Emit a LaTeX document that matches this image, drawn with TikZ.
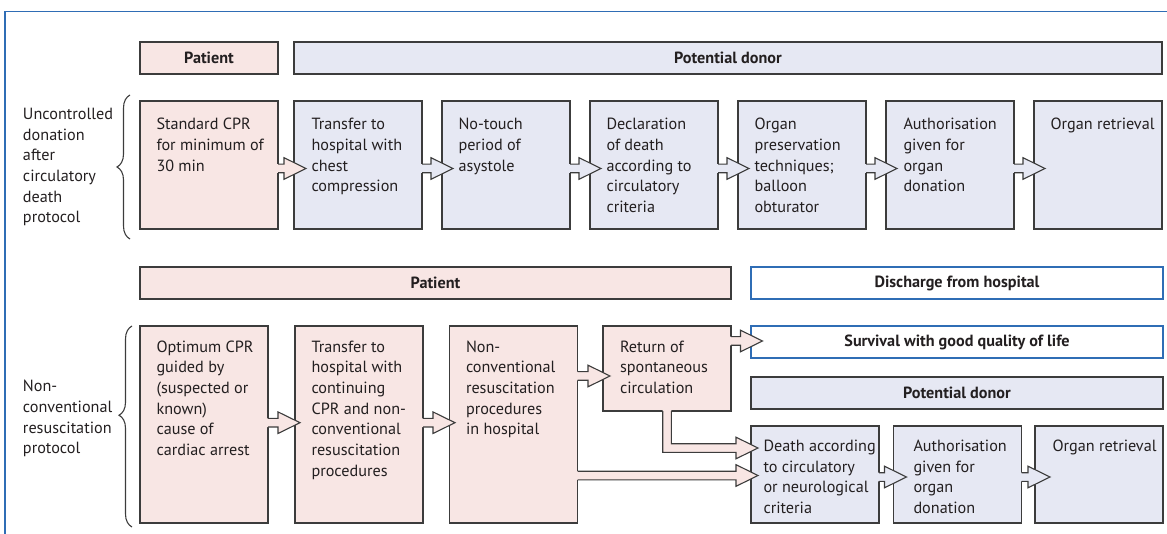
\documentclass[tikz,border=0pt]{standalone}
\usepackage{fontspec}
\setmainfont{PT Sans}
\usetikzlibrary{calc,decorations.pathreplacing}

\definecolor{pinkfill}{HTML}{F8E6E4}
\definecolor{bluefill}{HTML}{E6E8F3}
\definecolor{edge}{HTML}{3C3C3C}
\definecolor{frameblue}{HTML}{2F6DB5}
\definecolor{ink}{HTML}{231F20}

\newcommand{\bodyfont}{\fontsize{16.2}{20.7}\selectfont}
\newcommand{\firstline}{\rule{0pt}{14pt}}
\newcommand{\sh}{4.3}
\newcommand{\hh}{10.8}
\newcommand{\hl}{22}

% block arrow: start point on the source edge, tip point, fill colour
\newcommand{\flowarrow}[3]{%
  \fill[#3] ($(#1)+(-1.4,-\sh)$) -- ($(#2)+(-\hl,-\sh)$) -- ($(#2)+(-\hl,-\hh)$) -- (#2)
     -- ($(#2)+(-\hl,\hh)$) -- ($(#2)+(-\hl,\sh)$) -- ($(#1)+(-1.4,\sh)$) -- cycle;
  \draw[arrline] ($(#1)+(0,-\sh)$) -- ($(#2)+(-\hl,-\sh)$) -- ($(#2)+(-\hl,-\hh)$) -- (#2)
     -- ($(#2)+(-\hl,\hh)$) -- ($(#2)+(-\hl,\sh)$) -- ($(#1)+(0,\sh)$);
}

\tikzset{
  box/.style={draw=edge, line width=1.1pt, inner sep=0pt, outer sep=0pt, anchor=north west, font=\bodyfont, text=ink},
  pinkbox/.style={box, fill=pinkfill},
  bluebox/.style={box, fill=bluefill},
  whitebox/.style={box, draw=frameblue, fill=white},
  headbox/.style={minimum height=32pt, font=\bodyfont\bfseries},
  txt/.style={anchor=north west, inner sep=0pt, outer sep=0pt, align=left, font=\bodyfont, text=ink},
  arrline/.style={draw=edge, line width=1.1pt, line join=miter},
  bracestyle/.style={draw=edge, line width=1.1pt, decorate},
}

\begin{document}
\begin{tikzpicture}[x=1pt, y=-1pt]
\useasboundingbox (0,0) rectangle (1167,534);

% frame corner
\draw[frameblue, line width=1.5pt] (5,534) -- (5,11.5) -- (1167,11.5);

% ---------- uncontrolled donation protocol ----------
\node[pinkbox, headbox, minimum width=138pt] (hp1) at (140,42) {Patient};
\node[bluebox, headbox, minimum width=868pt] (hd1) at (294,42) {Potential donor};

\node[pinkbox, minimum width=138pt, minimum height=128pt] (u1) at (140,101) {};
\node[bluebox, minimum width=128pt, minimum height=128pt] (u2) at (294,101) {};
\node[bluebox, minimum width=128pt, minimum height=128pt] (u3) at (442,101) {};
\node[bluebox, minimum width=128pt, minimum height=128pt] (u4) at (590,101) {};
\node[bluebox, minimum width=128pt, minimum height=128pt] (u5) at (738,101) {};
\node[bluebox, minimum width=128pt, minimum height=128pt] (u6) at (886,101) {};
\node[bluebox, minimum width=128pt, minimum height=128pt] (u7) at (1034,101) {};

\node[txt] (u1t) at ($(u1.north west)+(16.5,14.8)$) {\firstline Standard CPR\\for minimum of\\30 min};
\node[txt] (u2t) at ($(u2.north west)+(17.5,14.8)$) {\firstline Transfer to\\hospital with\\chest\\compression};
\node[txt] (u3t) at ($(u3.north west)+(16.5,14.8)$) {\firstline No-touch\\period of\\asystole};
\node[txt] (u4t) at ($(u4.north west)+(16.5,14.8)$) {\firstline Declaration\\of death\\according to\\circulatory\\criteria};
\node[txt] (u5t) at ($(u5.north west)+(16.5,14.8)$) {\firstline Organ\\preservation\\techniques;\\balloon\\obturator};
\node[txt] (u6t) at ($(u6.north west)+(17.5,14.8)$) {\firstline Authorisation\\given for\\organ\\donation};
\node[txt] (u7t) at ($(u7.north west)+(16.5,14.8)$) {\firstline Organ retrieval};

\node[txt] (lab1) at (23,105.5) {\firstline Uncontrolled\\donation\\after\\circulatory\\death\\protocol};
\draw[bracestyle, decoration={brace, amplitude=13pt, aspect=0.5}] (130,239) -- (130,95);

\coordinate (r1) at (0,168.5);
\coordinate (a1s) at (u1.east |- r1); \coordinate (a1t) at ($(u2.west |- r1)+(12,0)$);
\coordinate (a2s) at (u2.east |- r1); \coordinate (a2t) at ($(u3.west |- r1)+(11,0)$);
\coordinate (a3s) at (u3.east |- r1); \coordinate (a3t) at ($(u4.west |- r1)+(11,0)$);
\coordinate (a4s) at (u4.east |- r1); \coordinate (a4t) at ($(u5.west |- r1)+(11,0)$);
\coordinate (a5s) at (u5.east |- r1); \coordinate (a5t) at ($(u6.west |- r1)+(11,0)$);
\coordinate (a6s) at (u6.east |- r1); \coordinate (a6t) at ($(u7.west |- r1)+(11,0)$);
\flowarrow{a1s}{a1t}{pinkfill}
\flowarrow{a2s}{a2t}{bluefill}
\flowarrow{a3s}{a3t}{bluefill}
\flowarrow{a4s}{a4t}{bluefill}
\flowarrow{a5s}{a5t}{bluefill}
\flowarrow{a6s}{a6t}{bluefill}

% ---------- non-conventional resuscitation protocol ----------
\node[pinkbox, headbox, minimum width=591pt] (hp2) at (140,267) {Patient};
\node[whitebox, headbox, minimum width=412pt] (dis) at (751,267) {Discharge from hospital};
\node[whitebox, headbox, minimum width=412pt] (surv) at (751,326) {Survival with good quality of life};
\node[bluebox, headbox, minimum width=412pt] (hd2) at (751,377) {Potential donor};

\node[pinkbox, minimum width=128pt, minimum height=197pt] (nA) at (140,326) {};
\node[pinkbox, minimum width=128pt, minimum height=197pt] (nB) at (295,326) {};
\node[pinkbox, minimum width=128pt, minimum height=197pt] (nC) at (449.5,326) {};
\node[pinkbox, minimum width=128pt, minimum height=85pt] (nD) at (603,326) {};
\node[bluebox, minimum width=128pt, minimum height=97pt] (death) at (751,426) {};
\node[bluebox, minimum width=128pt, minimum height=97pt] (auth) at (893.5,426) {};
\node[bluebox, minimum width=128pt, minimum height=97pt] (ret) at (1035,426) {};

\node[txt] (nAt) at ($(nA.north west)+(16.5,12)$) {\firstline Optimum CPR\\guided by\\(suspected or\\known)\\cause of\\cardiac arrest};
\node[txt] (nBt) at ($(nB.north west)+(16.5,12)$) {\firstline Transfer to\\hospital with\\continuing\\CPR and non-\\conventional\\resuscitation\\procedures};
\node[txt] (nCt) at ($(nC.north west)+(16.5,12)$) {\firstline Non-\\conventional\\resuscitation\\procedures\\in hospital};
\node[txt] (nDt) at ($(nD.north west)+(17,12)$) {\firstline Return of\\spontaneous\\circulation};
\node[txt] (deatht) at ($(death.north west)+(12.5,11.5)$) {\firstline Death according\\to circulatory\\or neurological\\criteria};
\node[txt] (autht) at ($(auth.north west)+(20,11.5)$) {\firstline Authorisation\\given for\\organ\\donation};
\node[txt] (rett) at ($(ret.north west)+(17.5,11.5)$) {\firstline Organ retrieval};

\node[txt] (lab2) at (23,377.7) {\firstline Non-\\conventional\\resuscitation\\protocol};
\draw[bracestyle, decoration={brace, amplitude=13pt, aspect=0.556}] (132,527) -- (132,326);

\coordinate (r2) at (0,422.7);
\coordinate (b1s) at (nA.east |- r2); \coordinate (b1t) at ($(nB.west |- r2)+(5,0)$);
\coordinate (b2s) at (nB.east |- r2); \coordinate (b2t) at ($(nC.west |- r2)+(5.5,0)$);
\coordinate (r3) at (0,376);
\coordinate (b3s) at (nC.east |- r3); \coordinate (b3t) at ($(nD.west |- r3)+(7,0)$);
\coordinate (r4) at (0,341);
\coordinate (b4s) at (nD.east |- r4); \coordinate (b4t) at ($(surv.west |- r4)+(11.5,0)$);
\coordinate (r5) at (0,475.5);
\coordinate (b5s) at (nC.east |- r5); \coordinate (b5t) at ($(death.west |- r5)+(7,0)$);
\coordinate (r6) at (0,477);
\coordinate (b6s) at (death.east |- r6); \coordinate (b6t) at ($(auth.west |- r6)+(13,0)$);
\coordinate (b7s) at (auth.east |- r6); \coordinate (b7t) at ($(ret.west |- r6)+(15,0)$);
\flowarrow{b1s}{b1t}{pinkfill}
\flowarrow{b2s}{b2t}{pinkfill}
\flowarrow{b3s}{b3t}{pinkfill}
\flowarrow{b4s}{b4t}{pinkfill}
\flowarrow{b5s}{b5t}{pinkfill}
\flowarrow{b6s}{b6t}{bluefill}
\flowarrow{b7s}{b7t}{bluefill}

% bent arrow from the bottom of the ROSC box to the death box
\coordinate (r7) at (0,448);
\coordinate (ls) at (nD.south);
\coordinate (lc) at (nD.south |- r7);
\coordinate (lt) at ($(death.west |- r7)+(7,0)$);
\fill[pinkfill] ($(ls)+(-\sh,-1.4)$) -- ($(lc)+(-\sh,\sh)$) -- ($(lt)+(-\hl,\sh)$) -- ($(lt)+(-\hl,\hh)$) -- (lt)
   -- ($(lt)+(-\hl,-\hh)$) -- ($(lt)+(-\hl,-\sh)$) -- ($(lc)+(\sh,-\sh)$) -- ($(ls)+(\sh,-1.4)$) -- cycle;
\draw[arrline] ($(ls)+(-\sh,0)$) -- ($(lc)+(-\sh,\sh)$) -- ($(lt)+(-\hl,\sh)$) -- ($(lt)+(-\hl,\hh)$) -- (lt)
   -- ($(lt)+(-\hl,-\hh)$) -- ($(lt)+(-\hl,-\sh)$) -- ($(lc)+(\sh,-\sh)$) -- ($(ls)+(\sh,0)$);
\end{tikzpicture}
\end{document}
